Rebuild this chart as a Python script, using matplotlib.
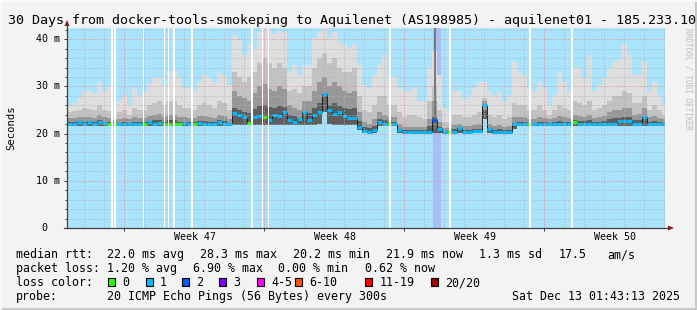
import matplotlib
matplotlib.use("Agg")
import matplotlib.pyplot as plt
from matplotlib.patches import Rectangle, Polygon
from matplotlib.lines import Line2D
import numpy as np

W, H = 697, 310
MONO = "DejaVu Sans Mono"

# one column = 6 hours (0.25 day), values in ms
median = [22.0, 22.1, 22.4, 22.0, 22.4, 22.0, 22.5, 22.2, 22.0, 22.0, 22.0, 22.0,
          22.0, 22.0, 22.0, 22.0, 22.5, 22.1, 22.2, 22.0, 22.0, 22.0, 22.0, 22.3,
          22.0, 22.0, 22.3, 22.0, 22.0, 22.0, 22.4, 22.0, 22.0, 24.4, 23.9, 23.6,
          22.3, 23.6, 23.8, 23.6, 22.9, 23.9, 23.8, 24.6, 22.9, 22.5, 23.1, 24.6,
          22.9, 23.9, 24.5, 28.3, 25.0, 24.1, 24.5, 23.8, 23.4, 23.3, 21.5, 20.6,
          20.4, 20.8, 22.5, 22.0, 22.0, 22.0, 20.8, 20.4, 20.4, 20.4, 20.4, 20.4,
          20.4, 22.9, 20.9, 20.4, 20.4, 20.4, 21.2, 20.4, 20.4, 20.5, 20.5, 26.0,
          21.0, 20.4, 20.4, 20.4, 20.4, 22.0, 22.0, 22.0, 22.0, 22.0, 22.0, 22.0,
          22.0, 22.0, 22.0, 22.0, 22.0, 22.5, 22.0, 22.0, 22.0, 22.0, 22.0, 22.0,
          22.0, 22.0, 22.7, 22.7, 22.7, 22.0, 22.0, 23.5, 22.0, 22.0, 22.0, 22.0]

loss = [1, 1, 1, 1, 1, 1, 1, 1, 0, 0, 1, 1,
        1, 1, 1, 0, 1, 1, 1, 0, 0, 0, 0, 1,
        1, 0, 1, 1, 1, 1, 1, 1, 1, 1, 1, 1,
        0, 1, 1, 0, 1, 1, 1, 1, 1, 1, 1, 1,
        1, 1, 1, 1, 1, 1, 1, 1, 1, 1, 1, 1,
        1, 1, 1, 1, 0, 1, 1, 1, 1, 1, 1, 1,
        1, 2, 1, 1, 0, 1, 1, 1, 1, 1, 1, 1,
        1, 1, 1, 1, 1, 1, 1, 1, 0, 1, 1, 1,
        1, 1, 1, 1, 1, 0, 1, 1, 1, 1, 1, 1,
        1, 1, 1, 1, 1, 1, 1, 1, 1, 1, 1, 1]

smoke_low = [21.6] * 33 + [21.8] * 17 + [22.0, 24.5, 22.0] + [21.8] * 5 + \
            [20.8, 20.2, 20.2, 20.2, 21.6, 21.6, 21.6, 21.6] + [20.1] * 17 + [23.0] + \
            [20.1] * 5 + [21.0] + [21.6] * 30

smoke_dark = [23.3, 23.2, 23.6, 23.5, 23.6, 23.2, 24.0, 23.5, 23.3, 22.8, 23.0, 23.3,
              23.0, 23.5, 23.3, 23.2, 23.8, 24.0, 24.2, 23.5, 24.0, 24.0, 23.5, 23.5,
              23.4, 23.2, 23.8, 23.8, 23.5, 23.2, 24.0, 23.8, 23.0, 29.0, 28.0, 27.5,
              27.0, 28.5, 30.0, 30.5, 29.5, 29.0, 30.0, 29.5, 26.0, 25.5, 25.0, 27.0,
              27.0, 29.0, 31.0, 32.0, 30.0, 31.0, 30.0, 29.0, 28.5, 29.0, 24.5, 22.5,
              22.0, 23.0, 24.5, 24.0, 23.5, 23.5, 22.0, 21.5, 21.5, 21.5, 21.5, 21.5,
              23.0, 27.0, 22.5, 21.2, 21.2, 21.8, 22.0, 21.6, 21.6, 21.8, 22.0, 27.0,
              22.0, 21.6, 21.8, 21.5, 21.6, 23.5, 23.5, 23.5, 23.0, 23.0, 23.5, 23.2,
              23.0, 23.3, 23.8, 23.5, 23.2, 24.0, 23.8, 23.6, 24.0, 23.3, 23.5, 23.8,
              24.5, 25.0, 25.0, 25.5, 25.5, 24.0, 24.2, 25.5, 23.5, 23.8, 23.3, 23.0]

smoke_mid = [24.5, 24.8, 25.0, 25.5, 25.2, 25.0, 26.0, 25.0, 24.8, 23.5, 24.5, 25.0,
             24.0, 25.5, 25.0, 25.0, 26.0, 26.5, 27.0, 26.0, 27.0, 27.0, 26.0, 25.5,
             25.5, 25.0, 26.0, 26.5, 26.0, 25.5, 27.0, 26.5, 25.0, 33.0, 32.0, 31.0,
             32.0, 33.0, 35.0, 36.0, 35.0, 34.0, 35.0, 34.0, 29.0, 29.5, 28.5, 30.0,
             30.0, 34.0, 36.0, 37.0, 35.0, 36.0, 34.0, 33.0, 33.0, 34.0, 28.0, 25.0,
             24.5, 26.0, 28.0, 28.0, 26.0, 26.0, 24.5, 23.5, 24.0, 24.0, 23.5, 23.0,
             27.0, 30.0, 25.0, 22.5, 22.5, 24.0, 24.0, 23.5, 23.5, 24.0, 24.5, 27.5,
             24.0, 23.5, 24.0, 23.0, 23.5, 26.5, 26.0, 26.0, 25.0, 25.0, 26.0, 25.0,
             24.0, 25.0, 26.0, 25.5, 25.0, 27.0, 26.5, 26.0, 27.0, 25.0, 25.5, 26.0,
             27.0, 28.0, 28.0, 29.0, 28.5, 26.5, 26.5, 28.0, 25.0, 26.0, 25.0, 24.0]

smoke_top = [25.8, 26.5, 27.5, 29.0, 29.0, 28.6, 31.0, 29.0, 30.0, 26.0, 27.0, 28.2,
             26.0, 29.5, 28.0, 29.0, 30.6, 31.7, 32.0, 30.0, 33.0, 33.5, 31.7, 29.6,
             29.6, 29.0, 31.0, 32.4, 31.7, 31.0, 33.0, 32.4, 30.3, 40.9, 39.8, 36.7,
             38.8, 38.0, 41.5, 43.0, 42.0, 41.0, 42.0, 41.6, 33.0, 34.5, 32.4, 34.5,
             34.5, 40.2, 41.6, 42.3, 40.2, 41.6, 39.5, 38.8, 38.1, 39.0, 34.5, 30.3,
             29.6, 32.4, 34.5, 36.7, 32.4, 32.0, 29.6, 29.0, 29.0, 29.6, 27.0, 26.8,
             34.0, 37.4, 32.4, 25.4, 24.8, 29.0, 29.0, 27.6, 28.2, 29.6, 31.0, 31.0,
             29.0, 28.2, 29.0, 26.8, 28.2, 35.2, 33.0, 32.4, 29.6, 29.0, 31.0, 29.6,
             26.0, 28.2, 33.0, 31.0, 29.0, 34.2, 33.8, 31.7, 36.7, 29.0, 30.3, 31.7,
             33.8, 35.2, 35.9, 38.8, 36.7, 32.4, 32.4, 35.2, 29.0, 31.0, 28.2, 26.0]

# days (from graph start) without any data
gaps = [(2.20, 2.30), (2.37, 2.45), (3.82, 3.87), (4.84, 4.90), (5.04, 5.10),
        (5.32, 5.40), (6.20, 6.29), (9.22, 9.29), (9.73, 9.78), (10.03, 10.12),
        (16.09, 16.19), (19.12, 19.20), (23.12, 23.20), (25.20, 25.29)]
partial = (18.30, 18.70)
outlier_day, outlier_low, outlier_high = 18.40, 21.0, 43.0

first_sunday = 2.85
weeks = ["Week 47", "Week 48", "Week 49", "Week 50"]
yticks = [0, 10, 20, 30, 40]
ylabels = ["0", "10 m", "20 m", "30 m", "40 m"]

loss_colors = ["#26ff00", "#00b8ff", "#0059ff", "#7e00ff",
               "#ff00ff", "#ff5500", "#ff0000", "#a10000"]
loss_labels = ["0", "1", "2", "3", "4-5", "6-10", "11-19", "20/20"]
loss_box_x = [108.3, 145.7, 181.7, 219.3, 256.7, 295.0, 365.0, 431.0]

rtt_stats = [(16, "median rtt:"), (107.3, "22.0 ms avg"), (200, "28.3 ms max"),
             (293.3, "20.2 ms min"), (386, "21.9 ms now"), (479.3, "1.3 ms sd"),
             (558.3, "17.5"), (607.7, "am/s")]
loss_stats = [(16, "packet loss:"), (107.3, "1.20 % avg"), (192.7, "6.90 % max"),
              (278.3, "0.00 % min"), (365, "0.62 % now")]


def fp(x, y):
    return x / W, 1 - y / H


fig = plt.figure(figsize=(W / 100, H / 100), dpi=100, facecolor="#f3f3f3")
ax = fig.add_axes([67 / W, 1 - 228 / H, 598 / W, 200 / H])
ax.set_facecolor("#aae4fc")
ax.set_xlim(0, 29.9)
ax.set_ylim(0, 42.37)
for s in ax.spines.values():
    s.set_visible(False)

n = len(median)
days = np.arange(n) * 0.25
low = np.array(smoke_low)
dark = np.array(smoke_dark)
ax.axvspan(*partial, color="#aabff5", lw=0, zorder=0.5)
for arr, col in [(smoke_top, "#dedede"), (smoke_mid, "#c2c2c2"), (dark, "#979797")]:
    ax.bar(days, np.array(arr) - low, bottom=low, width=0.25, align="edge",
           color=col, lw=0, zorder=1)
# darkest core of the smoke, lower half of the dark band
ax.bar(days, (dark - low) * 0.5, bottom=low, width=0.25, align="edge",
       color="#5e5e5e", lw=0, zorder=1.1)
ax.vlines(outlier_day, outlier_low, outlier_high, color="#777777", lw=1.4, zorder=1.2)

ax.step(np.r_[days, 30], np.r_[median, median[-1]], where="post",
        color="#202020", lw=0.7, zorder=2)
ax.hlines(median, days, days + 0.25, colors=[loss_colors[l] for l in loss],
          lw=2.2, zorder=2.5)

# grid
dot = (0, (1, 2))
for y in np.arange(2, 42.1, 2):
    major = int(round(y)) % 10 == 0
    ax.axhline(y, color="#e8868a" if major else "#a9b3bd", lw=0.72,
               ls=dot, zorder=3)
for d in np.arange(0.85, 29.9, 1):
    major = abs((d - first_sunday) % 7) < 0.01
    ax.axvline(d, color="#e8868a" if major else "#a9b3bd", lw=0.72,
               ls=dot, zorder=3)

for a, b in gaps:
    ax.axvspan(a, b, color="white", lw=0, zorder=4)

sundays = [first_sunday + 7 * k for k in range(4)]
ax.set_xticks(sundays)
ax.set_xticklabels([])
ax.set_yticks(yticks)
ax.set_yticks(np.arange(0, 42.1, 2), minor=True)
ax.set_yticklabels([])
ax.tick_params(which="major", direction="out", length=2.2, width=0.72, color="#404040")
ax.tick_params(which="minor", direction="out", length=1.5, width=0.72, color="#404040")
ax.tick_params(axis="x", which="minor", length=0)

ytr = ax.get_yaxis_transform()
for v, lab in zip(yticks, ylabels):
    xr = (47.8 - 67) / 598 if v == 0 else (60.5 - 67) / 598
    ax.text(xr, v, lab, transform=ytr, ha="right", va="center",
            fontsize=7.2, family=MONO, color="#000000")
xtr = ax.get_xaxis_transform()
for s, lab in zip(sundays, weeks):
    ax.text(s + 3.53, -0.045, lab, transform=xtr, ha="center", va="center",
            fontsize=7.2, family=MONO, color="#000000")

# axis lines + arrows
fig.add_artist(Line2D([fp(67, 228)[0], fp(67, 24)[0]], [fp(67, 228)[1], fp(67, 24)[1]],
                      color="#404040", lw=0.9))
fig.add_artist(Line2D([fp(64, 228)[0], fp(669, 228)[0]], [fp(64, 228)[1], fp(669, 228)[1]],
                      color="#404040", lw=0.9))
fig.add_artist(Polygon([fp(64.5, 26), fp(69.5, 26), fp(67, 20)], closed=True,
                       color="#8b1a1a", lw=0))
fig.add_artist(Polygon([fp(668, 225.5), fp(668, 230.5), fp(674, 228)], closed=True,
                       color="#8b1a1a", lw=0))

# frame
fig.add_artist(Line2D([0, 1], [fp(0, 308.5)[1]] * 2, color="#c9c9c9", lw=2.2))
fig.add_artist(Line2D([fp(695.5, 0)[0]] * 2, [0, 1], color="#c9c9c9", lw=2.2))
fig.add_artist(Line2D([0, 1], [fp(0, 0.6)[1]] * 2, color="#fbfbfb", lw=1.2))
fig.add_artist(Line2D([fp(0.6, 0)[0]] * 2, [0, 1], color="#fbfbfb", lw=1.2))

# texts
fig.text(*fp(8, 24), "30 Days from docker-tools-smokeping to Aquilenet (AS198985) - aquilenet01 - 185.233.10",
         fontsize=9.6, family=MONO, va="baseline", ha="left", color="#000000")
fig.text(*fp(11, 128), "Seconds", rotation=90, fontsize=7.6, family=MONO,
         ha="center", va="center", color="#000000")
fig.text(*fp(688, 28), "RRDTOOL / TOBI OETIKER", rotation=-90, fontsize=5.6,
         family=MONO, ha="center", va="top", color="#bdbdbd")

for x, t in rtt_stats:
    fig.text(*fp(x, 258), t, fontsize=8.4, family=MONO, va="baseline")
for x, t in loss_stats:
    fig.text(*fp(x, 272), t, fontsize=8.4, family=MONO, va="baseline")
fig.text(*fp(16, 286), "loss color:", fontsize=8.4, family=MONO, va="baseline")
for x, col, lab in zip(loss_box_x, loss_colors, loss_labels):
    fig.add_artist(Rectangle(fp(x, 285.5), 7 / W, 8 / H, facecolor=col,
                             edgecolor="#000000", lw=0.8))
    fig.text(*fp(x + 14.4, 286), lab, fontsize=8.4, family=MONO, va="baseline")
fig.text(*fp(16, 300), "probe:", fontsize=8.4, family=MONO, va="baseline")
fig.text(*fp(107.3, 300), "20 ICMP Echo Pings (56 Bytes) every 300s", fontsize=8.4,
         family=MONO, va="baseline")
fig.text(*fp(680.5, 300), "Sat Dec 13 01:43:13 2025", fontsize=8.4, family=MONO,
         va="baseline", ha="right")

fig.savefig("out.png", dpi=100, facecolor=fig.get_facecolor())
